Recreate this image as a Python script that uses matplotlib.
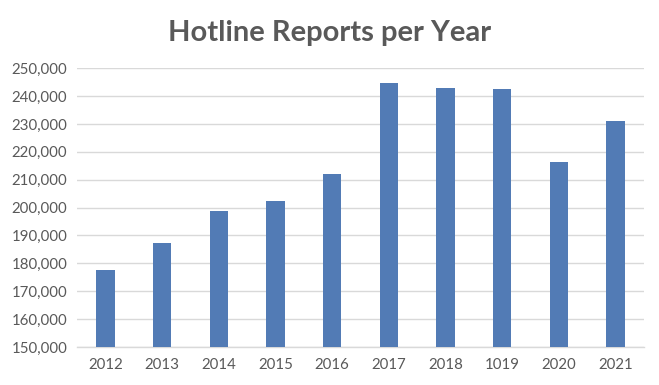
import matplotlib.pyplot as plt
from matplotlib.ticker import FuncFormatter

years = ['2012', '2013', '2014', '2015', '2016', '2017', '2018', '1019', '2020', '2021']
reports = [177600, 187300, 198800, 202400, 212100, 244700, 242900, 242600, 216400, 231100]

plt.rcParams['font.family'] = ['Lato', 'DejaVu Sans']

fig = plt.figure(figsize=(6.59, 3.85), dpi=100)
ax = fig.add_axes([0.117, 0.0987, 0.977 - 0.117, 0.823 - 0.0987])

x = range(len(years))
ax.bar(x, reports, width=0.32, color='#527BB5', zorder=3)

ax.set_xlim(-0.5, len(years) - 0.5)
ax.set_ylim(150000, 250000)
ax.set_yticks(range(150000, 250001, 10000))
ax.yaxis.set_major_formatter(FuncFormatter(lambda v, p: f'{int(v):,}'))
ax.set_xticks(list(x))
ax.set_xticklabels(years)

ax.grid(axis='y', color='#D9D9D9', linewidth=1, zorder=0)
for s in ['top', 'right', 'left']:
    ax.spines[s].set_visible(False)
ax.spines['bottom'].set_color('#D9D9D9')
ax.spines['bottom'].set_linewidth(1)
ax.tick_params(axis='both', length=0, labelsize=10.8, labelcolor='#595959')
ax.tick_params(axis='y', pad=7)
ax.tick_params(axis='x', pad=8)

fig.text(0.5, 0.915, 'Hotline Reports per Year', ha='center', va='center',
         fontsize=21, fontweight='bold', color='#595959')

fig.savefig('out.png', dpi=100)
